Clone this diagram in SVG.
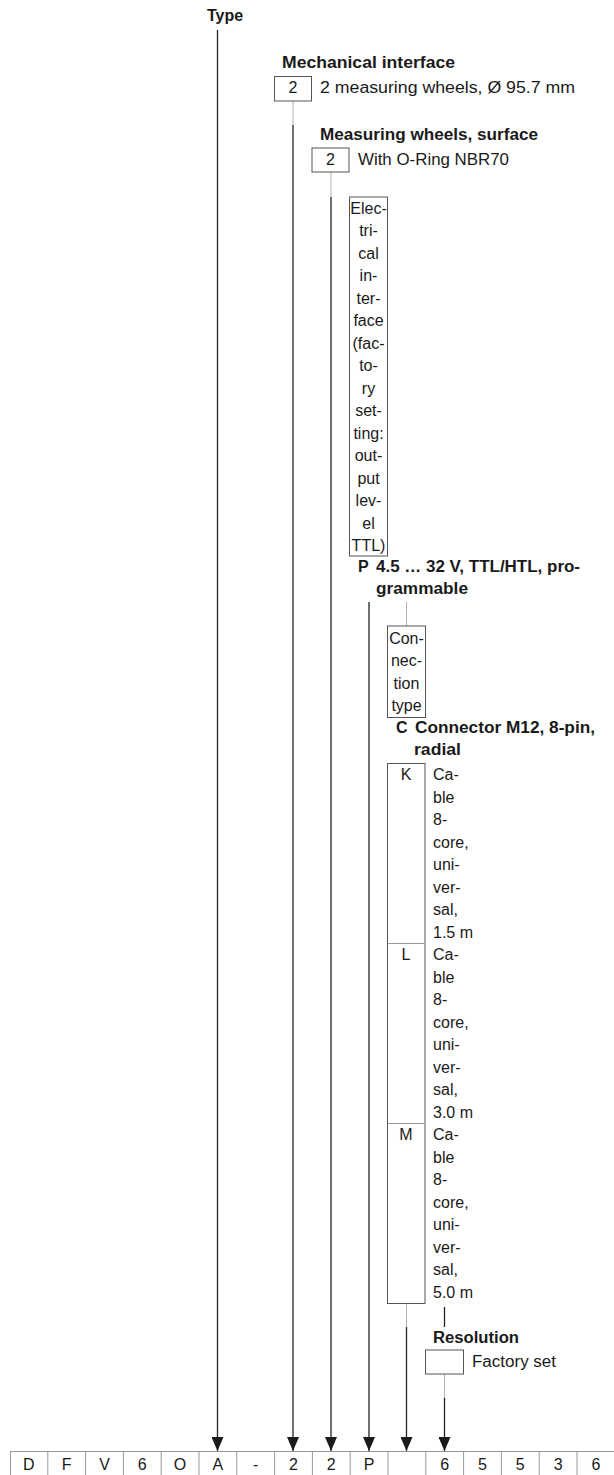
<svg xmlns="http://www.w3.org/2000/svg" width="614" height="1475" viewBox="0 0 614 1475">
<style>
.b{font-family:"Liberation Sans",Arial,sans-serif;font-weight:bold;font-size:16px;fill:#1a1a1a}
.r{font-family:"Liberation Sans",Arial,sans-serif;font-size:16px;fill:#1a1a1a}
.c{text-anchor:middle}
.box{fill:none;stroke:#555;stroke-width:1}
.sep{stroke:#999;stroke-width:1}
.ln{stroke:#222;stroke-width:1.3;fill:none}
.gl{stroke:#b0b0b0;stroke-width:1;fill:none}
.cell{stroke:#999;stroke-width:1}
</style>
<defs>
<marker id="ah" viewBox="0 0 14 12" refX="14" refY="6" markerWidth="14" markerHeight="12" markerUnits="userSpaceOnUse" orient="auto">
<path d="M0,0 L14,6 L0,12 z" fill="#1a1a1a"/>
</marker>
</defs>
<rect width="614" height="1475" fill="#fff"/>

<g id="connectors">
<line class="ln" x1="217.5" y1="30" x2="217.5" y2="1451" marker-end="url(#ah)"/>
<line class="gl" x1="293" y1="101" x2="293" y2="125"/>
<line class="ln" x1="293" y1="125" x2="293" y2="1451" marker-end="url(#ah)"/>
<line class="gl" x1="331" y1="172" x2="331" y2="197"/>
<line class="ln" x1="331" y1="197" x2="331" y2="1451" marker-end="url(#ah)"/>
<line class="ln" x1="369" y1="602" x2="369" y2="1451" marker-end="url(#ah)"/>
<line class="gl" x1="406.5" y1="602" x2="406.5" y2="626"/>
<line class="gl" x1="406.5" y1="1303" x2="406.5" y2="1327"/>
<line class="ln" x1="406.5" y1="1327" x2="406.5" y2="1451" marker-end="url(#ah)"/>
<line class="ln" x1="444.5" y1="1307" x2="444.5" y2="1327"/>
<line class="gl" x1="444.5" y1="1374" x2="444.5" y2="1398"/>
<line class="ln" x1="444.5" y1="1398" x2="444.5" y2="1451" marker-end="url(#ah)"/>
</g>

<g id="type">
<text class="b" x="207" y="21" font-size="15">Type</text>
</g>

<g id="mechanical-interface">
<text class="b" x="282" y="68" textLength="173" lengthAdjust="spacingAndGlyphs">Mechanical interface</text>
<rect class="box" x="274.5" y="76.5" width="37" height="24.5"/>
<text class="r c" x="293" y="93">2</text>
<text class="r" x="320" y="93" textLength="255" lengthAdjust="spacingAndGlyphs">2 measuring wheels, Ø 95.7 mm</text>
</g>

<g id="measuring-wheels">
<text class="b" x="320" y="140" textLength="218" lengthAdjust="spacingAndGlyphs">Measuring wheels, surface</text>
<rect class="box" x="312" y="148" width="37" height="24"/>
<text class="r c" x="330.5" y="165">2</text>
<text class="r" x="358" y="165" textLength="151" lengthAdjust="spacingAndGlyphs">With O-Ring NBR70</text>
</g>

<g id="electrical-interface">
<rect class="box" x="349.5" y="197" width="38" height="359" stroke="#333"/>
<text class="r c" x="368.5" y="213.5">Elec-</text>
<text class="r c" x="368.5" y="236">tri-</text>
<text class="r c" x="368.5" y="258.5">cal</text>
<text class="r c" x="368.5" y="281">in-</text>
<text class="r c" x="368.5" y="303.5">ter-</text>
<text class="r c" x="368.5" y="326">face</text>
<text class="r c" x="368.5" y="348.5">(fac-</text>
<text class="r c" x="368.5" y="371">to-</text>
<text class="r c" x="368.5" y="393.5">ry</text>
<text class="r c" x="368.5" y="416">set-</text>
<text class="r c" x="368.5" y="438.5">ting:</text>
<text class="r c" x="368.5" y="461">out-</text>
<text class="r c" x="368.5" y="483.5">put</text>
<text class="r c" x="368.5" y="506">lev-</text>
<text class="r c" x="368.5" y="528.5">el</text>
<text class="r c" x="368.5" y="551">TTL)</text>
</g>

<g id="option-p">
<text class="b" x="358" y="572">P</text>
<text class="b" x="376" y="572" textLength="204" lengthAdjust="spacingAndGlyphs">4.5 … 32 V, TTL/HTL, pro-</text>
<text class="b" x="376" y="593.5" textLength="92" lengthAdjust="spacingAndGlyphs">grammable</text>
</g>

<g id="connection-type">
<rect class="box" x="387.5" y="626" width="38" height="91.5" stroke="#333"/>
<text class="r c" x="406.5" y="643.5">Con-</text>
<text class="r c" x="406.5" y="666">nec-</text>
<text class="r c" x="406.5" y="688.5">tion</text>
<text class="r c" x="406.5" y="711">type</text>
</g>

<g id="option-c">
<text class="b" x="396" y="733">C</text>
<text class="b" x="415" y="733" textLength="180" lengthAdjust="spacingAndGlyphs">Connector M12, 8-pin,</text>
<text class="b" x="414" y="755" textLength="47" lengthAdjust="spacingAndGlyphs">radial</text>
</g>

<g id="cable-options">
<rect class="box" x="387.5" y="763.5" width="37.5" height="540" stroke="#444"/>
<line class="sep" x1="387.5" y1="943.5" x2="425" y2="943.5"/>
<line class="sep" x1="387.5" y1="1123.5" x2="425" y2="1123.5"/>
<text class="r c" x="406" y="780">K</text>
<text class="r" x="433" y="780">Ca-</text>
<text class="r" x="433" y="802.5">ble</text>
<text class="r" x="433" y="825">8-</text>
<text class="r" x="433" y="847.5">core,</text>
<text class="r" x="433" y="870">uni-</text>
<text class="r" x="433" y="892.5">ver-</text>
<text class="r" x="433" y="915">sal,</text>
<text class="r" x="433" y="937.5">1.5 m</text>
<text class="r c" x="406" y="960">L</text>
<text class="r" x="433" y="960">Ca-</text>
<text class="r" x="433" y="982.5">ble</text>
<text class="r" x="433" y="1005">8-</text>
<text class="r" x="433" y="1027.5">core,</text>
<text class="r" x="433" y="1050">uni-</text>
<text class="r" x="433" y="1072.5">ver-</text>
<text class="r" x="433" y="1095">sal,</text>
<text class="r" x="433" y="1117.5">3.0 m</text>
<text class="r c" x="406" y="1140">M</text>
<text class="r" x="433" y="1140">Ca-</text>
<text class="r" x="433" y="1162.5">ble</text>
<text class="r" x="433" y="1185">8-</text>
<text class="r" x="433" y="1207.5">core,</text>
<text class="r" x="433" y="1230">uni-</text>
<text class="r" x="433" y="1252.5">ver-</text>
<text class="r" x="433" y="1275">sal,</text>
<text class="r" x="433" y="1297.5">5.0 m</text>
</g>

<g id="resolution">
<text class="b" x="433" y="1343" textLength="86" lengthAdjust="spacingAndGlyphs">Resolution</text>
<rect class="box" x="425.5" y="1350" width="38" height="24"/>
<text class="r" x="472" y="1367" textLength="84" lengthAdjust="spacingAndGlyphs">Factory set</text>
</g>

<g id="type-code">
<line class="cell" x1="10" y1="1451.5" x2="614" y2="1451.5"/>
<g class="cell">
<line x1="10.5" y1="1451" x2="10.5" y2="1475"/>
<line x1="47.8" y1="1451" x2="47.8" y2="1475"/>
<line x1="85.6" y1="1451" x2="85.6" y2="1475"/>
<line x1="123.4" y1="1451" x2="123.4" y2="1475"/>
<line x1="161.2" y1="1451" x2="161.2" y2="1475"/>
<line x1="199" y1="1451" x2="199" y2="1475"/>
<line x1="236.8" y1="1451" x2="236.8" y2="1475"/>
<line x1="274.6" y1="1451" x2="274.6" y2="1475"/>
<line x1="312.4" y1="1451" x2="312.4" y2="1475"/>
<line x1="350.2" y1="1451" x2="350.2" y2="1475"/>
<line x1="388" y1="1451" x2="388" y2="1475"/>
<line x1="425.8" y1="1451" x2="425.8" y2="1475"/>
<line x1="463.6" y1="1451" x2="463.6" y2="1475"/>
<line x1="501.4" y1="1451" x2="501.4" y2="1475"/>
<line x1="539.2" y1="1451" x2="539.2" y2="1475"/>
<line x1="577" y1="1451" x2="577" y2="1475"/>
</g>
<g class="r c" font-size="15">
<text x="28.9" y="1470">D</text>
<text x="66.7" y="1470">F</text>
<text x="104.5" y="1470">V</text>
<text x="142.3" y="1470">6</text>
<text x="180.1" y="1470">O</text>
<text x="217.9" y="1470">A</text>
<text x="255.7" y="1470">-</text>
<text x="293.5" y="1470">2</text>
<text x="331.3" y="1470">2</text>
<text x="369.1" y="1470">P</text>
<text x="444.7" y="1470">6</text>
<text x="482.5" y="1470">5</text>
<text x="520.3" y="1470">5</text>
<text x="558.1" y="1470">3</text>
<text x="595.9" y="1470">6</text>
</g>
</g>
</svg>
